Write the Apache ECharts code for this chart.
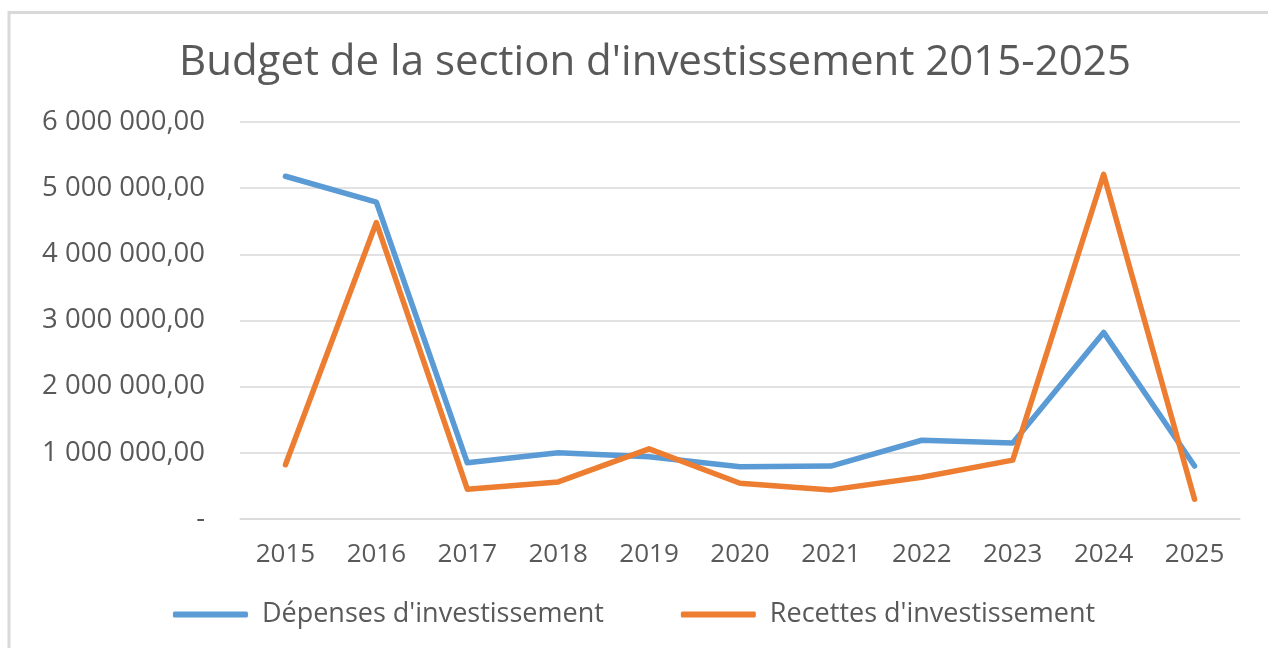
<!DOCTYPE html>
<html><head><meta charset="utf-8">
<script src="https://cdn.jsdelivr.net/npm/echarts@6/dist/echarts.min.js"></script>
<style>html,body{margin:0;padding:0;background:#fff}#c{width:1268px;height:648px}</style>
</head><body><div id="c"></div>
<script>
const categories = ['2015','2016','2017','2018','2019','2020','2021','2022','2023','2024','2025'];
const depenses = [5180000, 4790000, 850000, 1000000, 940000, 790000, 800000, 1190000, 1150000, 2820000, 800000];
const recettes = [820000, 4480000, 450000, 560000, 1060000, 540000, 440000, 630000, 890000, 5210000, 300000];
const seriesNames = ["Dépenses d'investissement", "Recettes d'investissement"];
const title = "Budget de la section d'investissement 2015-2025";

function fmt(v){
  if (v === 0) return '-';
  const s = Math.round(v).toString().replace(/\B(?=(\d{3})+(?!\d))/g, ' ');
  return s + ',00';
}
const chart = echarts.init(document.getElementById('c'));
chart.setOption({
  animation:false,
  backgroundColor:'#fff',
  graphic:[
    {type:'line',shape:{x1:9,y1:12.5,x2:1268,y2:12.5},style:{stroke:'#d9d9d9',lineWidth:3}},
    {type:'line',shape:{x1:9,y1:11,x2:9,y2:648},style:{stroke:'#d9d9d9',lineWidth:3}}
  ],
  title:{text:title,left:174,top:37,textStyle:{fontFamily:'Open Sans',fontSize:42,fontWeight:'normal',color:'#595959'}},
  legend:{bottom:15,left:'center',itemWidth:75,itemHeight:6,itemGap:77,icon:'roundRect',
    textStyle:{fontFamily:'Open Sans',fontSize:27,color:'#595959',padding:[0,0,0,9]}},
  grid:{left:240,right:28,top:122,bottom:129},
  xAxis:{type:'category',data:categories,boundaryGap:true,
    axisLine:{show:true,lineStyle:{color:'#d9d9d9',width:1.5}},axisTick:{show:false},
    axisLabel:{fontFamily:'Open Sans',fontSize:26,color:'#595959',margin:23}},
  yAxis:{type:'value',min:0,max:6000000,interval:1000000,
    axisLine:{show:false},axisTick:{show:false},
    splitLine:{lineStyle:{color:'#d9d9d9',width:1.5}},
    axisLabel:{fontFamily:'Open Sans',fontSize:27.5,color:'#595959',margin:35,formatter:fmt}},
  series:[
    {name:seriesNames[0],type:'line',data:depenses,symbol:'none',lineStyle:{width:5.5,color:'#5B9BD5',cap:'round',join:'round'},itemStyle:{color:'#5B9BD5'}},
    {name:seriesNames[1],type:'line',data:recettes,symbol:'none',lineStyle:{width:5.5,color:'#ED7D31',cap:'round',join:'round'},itemStyle:{color:'#ED7D31'}}
  ]
});
</script></body></html>
